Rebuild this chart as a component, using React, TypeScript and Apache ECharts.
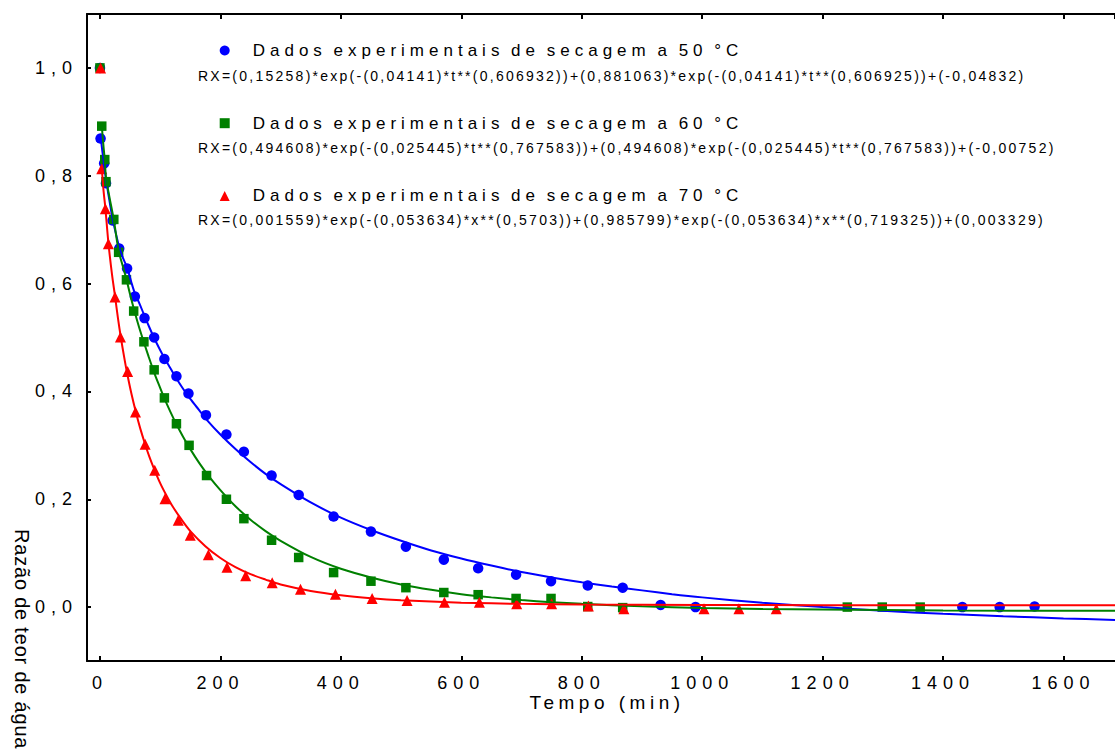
import React, { useEffect, useRef } from 'react';
import * as echarts from 'echarts';

// ---- data ----
const seriesNames = [
  'Dados experimentais de secagem a 50 °C',
  'Dados experimentais de secagem a 60 °C',
  'Dados experimentais de secagem a 70 °C',
];
const fitNames = ['Ajuste 50 °C', 'Ajuste 60 °C', 'Ajuste 70 °C'];
const equations = [
  'RX=(0,15258)*exp(-(0,04141)*t**(0,606932))+(0,881063)*exp(-(0,04141)*t**(0,606925))+(-0,04832)',
  'RX=(0,494608)*exp(-(0,025445)*t**(0,767583))+(0,494608)*exp(-(0,025445)*t**(0,767583))+(-0,00752)',
  'RX=(0,001559)*exp(-(0,053634)*x**(0,5703))+(0,985799)*exp(-(0,053634)*x**(0,719325))+(0,003329)',
];
const xTicks = [0, 200, 400, 600, 800, 1000, 1200, 1400, 1600];
const yTicks = [0, 0.2, 0.4, 0.6, 0.8, 1.0];

// experimental points
const t50 = [0, 1, 7, 10, 21, 32, 45, 58, 74, 90, 107, 127, 147, 176, 210, 239, 285, 330, 388, 450, 508, 571, 628, 691, 749, 810, 868, 931, 989, 1432, 1494, 1552];
const rx50 = [1.0, 0.869, 0.823, 0.786, 0.717, 0.665, 0.628, 0.576, 0.536, 0.5, 0.46, 0.428, 0.396, 0.356, 0.32, 0.288, 0.244, 0.208, 0.168, 0.14, 0.112, 0.088, 0.072, 0.06, 0.048, 0.04, 0.036, 0.004, 0.0, 0.0, 0.0, 0.001];

const t60 = [0, 3, 8, 10, 23, 31, 44, 56, 73, 90, 107, 127, 148, 177, 210, 239, 285, 330, 388, 450, 508, 571, 628, 691, 749, 810, 868, 1241, 1299, 1362];
const rx60 = [1.0, 0.892, 0.83, 0.789, 0.719, 0.658, 0.607, 0.549, 0.492, 0.44, 0.388, 0.34, 0.3, 0.244, 0.2, 0.164, 0.124, 0.092, 0.064, 0.048, 0.036, 0.027, 0.023, 0.016, 0.016, 0.001, -0.001, 0.0, 0.0, 0.0];

const t70 = [1, 3, 9, 14, 25, 34, 46, 59, 75, 91, 108, 130, 150, 180, 211, 242, 286, 333, 391, 452, 510, 572, 630, 692, 750, 811, 870, 1003, 1061, 1123];
const rx70 = [1.0, 0.813, 0.739, 0.674, 0.575, 0.501, 0.437, 0.362, 0.302, 0.254, 0.201, 0.161, 0.133, 0.097, 0.074, 0.058, 0.045, 0.033, 0.024, 0.016, 0.012, 0.009, 0.009, 0.006, 0.006, 0.002, -0.003, -0.003, -0.003, -0.003];

// fitted curves
const fitT50 = [1, 4, 7, 10, 15, 21, 26, 32, 38, 45, 52, 58, 66, 74, 82, 90, 98, 107, 117, 127, 138, 150, 165, 180, 200, 225, 250, 275, 300, 350, 400, 450, 500, 550, 600, 650, 700, 750, 800, 850, 900, 950, 1000, 1100, 1200, 1300, 1400, 1500, 1600, 1686];
const fit50 = [0.874, 0.845, 0.82, 0.794, 0.759, 0.72, 0.695, 0.668, 0.648, 0.63, 0.603, 0.582, 0.562, 0.54, 0.519, 0.499, 0.481, 0.462, 0.443, 0.424, 0.405, 0.386, 0.365, 0.344, 0.32, 0.293, 0.269, 0.247, 0.228, 0.194, 0.166, 0.143, 0.123, 0.105, 0.09, 0.077, 0.065, 0.055, 0.046, 0.038, 0.031, 0.024, 0.018, 0.008, 0.0, -0.007, -0.0125, -0.017, -0.021, -0.024];

const fitT60 = [3, 6, 8, 10, 15, 23, 31, 38, 44, 50, 57, 65, 73, 81, 90, 98, 107, 117, 127, 138, 150, 165, 180, 200, 225, 250, 275, 300, 350, 400, 450, 500, 550, 600, 650, 700, 750, 800, 900, 1000, 1100, 1200, 1400, 1686];
const fit60 = [0.893, 0.853, 0.83, 0.797, 0.765, 0.718, 0.661, 0.632, 0.608, 0.58, 0.55, 0.519, 0.491, 0.464, 0.435, 0.412, 0.387, 0.362, 0.339, 0.316, 0.293, 0.267, 0.244, 0.217, 0.187, 0.162, 0.141, 0.123, 0.093, 0.071, 0.055, 0.042, 0.032, 0.024, 0.018, 0.013, 0.009, 0.006, 0.0014, -0.0015, -0.0035, -0.0047, -0.0062, -0.007];

const fitT70 = [3, 6, 9, 14, 20, 25, 30, 35, 40, 45, 52, 60, 67, 75, 82, 90, 100, 110, 120, 135, 150, 175, 200, 225, 250, 275, 300, 350, 400, 450, 500, 600, 700, 800, 1000, 1200, 1686];
const fit70 = [0.815, 0.772, 0.74, 0.676, 0.617, 0.577, 0.535, 0.498, 0.465, 0.4345, 0.397, 0.36, 0.331, 0.302, 0.279, 0.256, 0.23, 0.208, 0.188, 0.163, 0.141, 0.113, 0.091, 0.074, 0.061, 0.051, 0.042, 0.03, 0.022, 0.0165, 0.0127, 0.0082, 0.006, 0.0048, 0.004, 0.0036, 0.0034];

const colors = ['#0000ff', '#008000', '#ff0000'];
const symbols = ['circle', 'rect', 'triangle'];
const symbolSizes = [10.5, 9.5, 11];

const FONT = 'Liberation Sans';

const css = `
#chart-root text[style*="18px"] { letter-spacing: 6px; }
#chart-root text[style*="17px"] { letter-spacing: 5px; word-spacing: -3px; }
#chart-root text[style*="14px"] { letter-spacing: 2.25px; }
#chart-root text[style*="19px"] { letter-spacing: 4.5px; }
#chart-root text[style*="20px"] { letter-spacing: 0.8px; }
`;

const pairs = (xs: number[], ys: number[]) => xs.map((x, i) => [x, ys[i]]);

export default function App() {
  const ref = useRef<HTMLDivElement>(null);

  useEffect(() => {
    if (!ref.current) return;
    const chart = echarts.init(ref.current, null, { renderer: 'svg' });

    const xMin = -21.5;
    const xMax = 1685.5;
    const axisLineStyle = { color: '#000', width: 2 };
    const tickStyle = { color: '#000', width: 2 };

    const scatterSeries = seriesNames.map((name, i) => ({
      name,
      type: 'scatter',
      data: pairs([t50, t60, t70][i], [rx50, rx60, rx70][i]),
      symbol: symbols[i],
      symbolSize: symbolSizes[i],
      itemStyle: { color: colors[i], opacity: 1 },
      z: 2,
    }));

    const lineSeries = fitNames.map((name, i) => ({
      name,
      type: 'line',
      data: pairs([fitT50, fitT60, fitT70][i], [fit50, fit60, fit70][i]),
      showSymbol: false,
      smooth: 0.3,
      lineStyle: { color: colors[i], width: 2 },
      itemStyle: { color: colors[i] },
      z: 3,
    }));

    const option: any = {
      animation: false,
      backgroundColor: '#ffffff',
      textStyle: { fontFamily: FONT },
      grid: { left: 87, top: 14, width: 1030, height: 647, containLabel: false },
      legend: {
        orient: 'vertical',
        left: 219.7,
        top: 40.5,
        padding: 0,
        itemWidth: 10,
        itemHeight: 10,
        itemGap: 52.7,
        selectedMode: false,
        data: seriesNames.map((name, i) => ({ name, icon: symbols[i] })),
        textStyle: {
          fontSize: 17,
          color: '#000',
          fontFamily: FONT,
          lineHeight: 20,
          padding: [0, 0, 0, 18],
        },
      },
      xAxis: [
        {
          type: 'value',
          min: xMin,
          max: xMax,
          splitNumber: 8,
          position: 'bottom',
          name: 'Tempo (min)',
          nameLocation: 'middle',
          nameGap: 33,
          nameMoveOverlap: false,
          nameTextStyle: { fontSize: 19, color: '#000', fontFamily: FONT, lineHeight: 16, padding: [0, 0, 0, 12] },
          axisLine: { show: true, onZero: false, lineStyle: axisLineStyle },
          axisTick: { show: true, inside: true, length: 5, lineStyle: tickStyle },
          splitLine: { show: false },
          axisLabel: {
            show: true,
            margin: 15,
            fontSize: 18,
            color: '#000',
            fontFamily: FONT,
            lineHeight: 14,
            showMinLabel: false,
            showMaxLabel: false,
            formatter: (v: number) => (xTicks.some((t) => Math.abs(t - v) < 1e-6) ? String(Math.round(v)) : ''),
          },
        },
        {
          type: 'value',
          min: xMin,
          max: xMax,
          splitNumber: 8,
          position: 'top',
          axisLine: { show: true, onZero: false, lineStyle: axisLineStyle },
          axisTick: { show: true, inside: true, length: 5, lineStyle: tickStyle },
          splitLine: { show: false },
          axisLabel: { show: false },
        },
      ],
      yAxis: {
        type: 'value',
        min: -0.1,
        max: 1.1,
        splitNumber: 5,
        axisLine: { show: true, onZero: false, lineStyle: axisLineStyle },
        axisTick: { show: true, inside: true, length: 4, lineStyle: tickStyle },
        splitLine: { show: false },
        axisLabel: {
          show: true,
          margin: 9,
          fontSize: 18,
          color: '#000',
          fontFamily: FONT,
          showMinLabel: false,
          showMaxLabel: false,
          formatter: (v: number) =>
            yTicks.some((t) => Math.abs(t - v) < 1e-6) ? v.toFixed(1).replace('.', ',') : '',
        },
      },
      graphic: [
        ...equations.map((eq, i) => ({
          type: 'text',
          left: 198,
          top: [77, 149, 221][i] - 8,
          style: { text: eq, fontSize: 14, fill: '#000', fontFamily: FONT },
          silent: true,
        })),
        {
          type: 'text',
          x: 22,
          y: 529,
          rotation: -Math.PI / 2,
          style: {
            text: 'Razão de teor de água',
            fontSize: 20,
            fill: '#000',
            fontFamily: FONT,
            textAlign: 'left',
            textVerticalAlign: 'middle',
          },
          silent: true,
        },
      ],
      series: [...scatterSeries, ...lineSeries],
    };

    chart.setOption(option);
    return () => chart.dispose();
  }, []);

  return (
    <div id="chart-root" style={{ position: 'fixed', left: 0, top: 0, width: 1115, height: 752, background: '#fff' }}>
      <style>{css}</style>
      <div ref={ref} style={{ width: 1115, height: 752 }} />
    </div>
  );
}
